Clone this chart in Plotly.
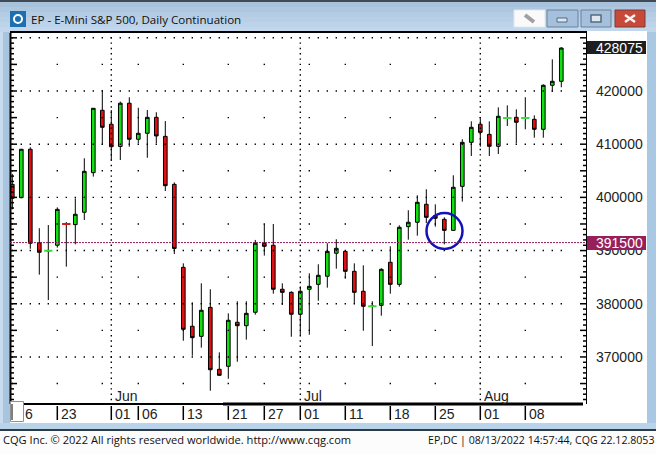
import plotly.graph_objects as go

dates = ["05-16","05-17","05-18","05-19","05-20","05-23","05-24","05-25","05-26","05-27",
 "05-31","06-01","06-02","06-03","06-06","06-07","06-08","06-09","06-10","06-13",
 "06-14","06-15","06-16","06-17","06-21","06-22","06-23","06-24","06-27","06-28",
 "06-29","06-30","07-01","07-05","07-06","07-07","07-08","07-11","07-12","07-13",
 "07-14","07-15","07-18","07-19","07-20","07-21","07-22","07-25","07-26","07-27",
 "07-28","07-29","08-01","08-02","08-03","08-04","08-05","08-08","08-09","08-10",
 "08-11","08-12"]
opens = [402450,399950,409050,391475,389950,391000,395025,394875,397200,404650,
 416375,413750,409575,417700,410925,412050,415050,411475,402450,386850,
 375775,373875,379325,367675,368250,376525,375875,378400,391375,391000,
 382725,382150,378025,382725,383650,385175,389500,389850,386100,382350,
 379500,379700,387800,383650,394500,395325,398700,396550,395875,393800,
 402075,410350,413750,411850,409600,414900,415050,414900,414675,412800,
 421075,421825]
highs = [404400,409100,409425,394200,394800,398125,395375,399825,407350,416800,
 420200,416425,418000,418825,416850,416425,416000,414350,402825,387600,
 380275,383850,382725,370875,378200,380475,380475,392000,395000,395000,
 383850,382350,383275,385725,387425,391375,392125,389850,387600,387225,
 380475,386675,390800,394750,397575,400400,401525,398700,396250,404150,
 410925,414300,414875,414300,416925,417300,416550,418825,415425,421250,
 425950,428225]
lows = [397750,399825,390350,385475,380700,390550,386975,391175,395750,403900,
 409850,406900,407025,409525,410175,407450,410175,401200,389350,373050,
 370225,371750,363650,366425,365900,369100,373250,377950,389050,381900,
 379775,373800,374125,374175,380575,383025,386600,384700,380150,374925,
 372050,377750,381900,383200,392050,392800,395175,394500,391175,393800,
 399200,407775,409525,407775,408150,413425,410175,412800,411225,411225,
 419875,420700]
closes = [399825,409050,391375,389675,390000,397750,394975,396825,404900,416750,
 413175,409525,417700,410925,412050,415050,411550,402200,390400,375200,
 373625,378775,367600,366550,376900,375875,378200,391375,390800,382725,
 382150,378025,382350,383275,385350,389850,390425,386100,382150,379525,
 379550,386475,383650,394375,395325,399075,396250,396075,393800,401900,
 410350,413175,412225,409600,415250,414950,414125,414950,412800,421075,
 421825,428075]
tick_dates = ["05-16","05-23","06-01","06-06","06-13","06-21","06-27","07-01","07-11","07-18","07-25","08-01","08-08"]
tick_labels = ["6","23","01","06","13","21","27","01","11","18","25","01","08"]
week_starts = ["05-16","05-23","05-31","06-06","06-13","06-21","06-27","07-05","07-11","07-18","07-25","08-01","08-08"]
month_dates = ["06-01","07-01","08-01"]
month_labels = ["Jun","Jul","Aug"]
price_levels = [370000,380000,390000,400000,410000,420000]
half_levels = [365000,375000,385000,395000,405000,415000,425000]
grid_rows = price_levels + [430000]
last_price = 428075
marker_price = 391500

W, H = 656, 454
L, R, T, B = 10, 586, 33, 404
UNIT = 188.0  # price units per pixel
y_top = 420000 + (91 - T) * UNIT
y_bot = 420000 + (91 - B) * UNIT
x_lo = -(12.3 - L) / 9
x_hi = (R - 12.3) / 9

FONT = "Liberation Sans"
UI = "Open Sans"
GREEN, RED = "#10e010", "#e01010"
TICK = "#000000"
TICK_W = 1.5

def px(x):
    return (x - L) / (R - L)

def py(y):
    return 1 - (y - T) / (B - T)

def rect(x0, y0, x1, y1, fill, line=None, lw=1, layer="below"):
    return dict(type="rect", xref="paper", yref="paper",
                x0=px(x0), x1=px(x1), y0=py(y0), y1=py(y1),
                fillcolor=fill, line=dict(color=line or fill, width=lw if line else 0), layer=layer)

def seg(x0, y0, x1, y1, color, width=1, layer="above"):
    return dict(type="line", xref="paper", yref="paper", x0=px(x0), x1=px(x1), y0=py(y0), y1=py(y1),
                line=dict(color=color, width=width), layer=layer)

shapes = []
# window frame
shapes.append(rect(0, 0, W, 431, "#b5cde4"))
for i, c in enumerate(["#a9c2dc", "#aec7e0", "#b3cbe3", "#b8cfe6", "#bdd3e9", "#c2d7eb"]):
    shapes.append(rect(0, 2 + i * 5, W, 7 + i * 5, c))
shapes.append(rect(0, 0, W, 2, "#3f4a55"))
shapes.append(rect(0, 32, 3, 431, "#c8dcee"))
shapes.append(rect(3, 32, 10, 431, "#a9c4df"))
shapes.append(rect(647, 32, 656, 431, "#a9c8e4"))
shapes.append(rect(10, 31, 647, 423, "#ffffff"))
shapes.append(rect(0, 423, W, 429, "#b9d3ea"))
shapes.append(rect(0, 429, W, 431, "#2b3a47"))
shapes.append(rect(0, 431, W, H, "#fcfcfc"))
shapes.append(rect(10, 31, 587, 33, "#000000"))
# title bar widgets
shapes.append(rect(10, 11, 26, 27, "#1c6fb0"))
shapes.append(dict(type="circle", xref="paper", yref="paper", x0=px(14), x1=px(22),
                   y0=py(23), y1=py(15), line=dict(color="#ffffff", width=2)))
shapes.append(rect(514, 10, 545, 27, "#fafafa", "#dfe8f0"))
shapes.append(rect(547, 10, 578, 27, "#a4c0dc", "#6d8299"))
shapes.append(rect(581, 10, 611, 27, "#a4c0dc", "#6d8299"))
shapes.append(rect(615, 10, 645, 27, "#c6493a", "#7e3a32"))
shapes.append(rect(557, 18, 567, 22, "#dfe8f0", "#55697c"))
shapes.append(rect(591, 15, 601, 22, "#dfe8f0", "#55697c", 1.5))
shapes.append(seg(525, 15, 534, 22, "#a0a0a0", 4, "below"))
shapes.append(seg(625, 15, 635, 22, "#f4f4f4", 2.5, "below"))
shapes.append(seg(625, 22, 635, 15, "#f4f4f4", 2.5, "below"))
# axis lines
shapes.append(seg(10.5, 33, 10.5, 404, "#000000", 2))
shapes.append(seg(586.5, 33, 586.5, 404, "#000000", 1))
# y ticks on both edges: long every 5000, short every 1000
major = set(price_levels + half_levels + [430000])
for lv in range(362000, 431000, 1000):
    ln = 6 if lv in major else 3
    shapes.append(dict(type="line", xref="paper", yref="y", x0=px(11), x1=px(11 + ln), y0=lv, y1=lv,
                       line=dict(color=TICK, width=TICK_W), layer="above"))
    shapes.append(dict(type="line", xref="paper", yref="y", x0=px(586 - ln), x1=px(586), y0=lv, y1=lv,
                       line=dict(color=TICK, width=TICK_W), layer="above"))
# x ticks
for d in tick_dates[1:]:
    shapes.append(dict(type="line", xref="x", yref="paper", x0=d, x1=d, y0=py(406), y1=py(420),
                       line=dict(color=TICK, width=TICK_W), layer="above"))
# time bar
shapes.append(rect(10, 403, 223, 405, "#000000", layer="above"))
shapes.append(rect(223, 402.5, 583, 405.5, "#000000", layer="above"))
# last value flags
shapes.append(rect(587, 41, 646, 54, "#1e1e1e", layer="above"))
shapes.append(rect(587, 236, 646, 250, "#98205a", layer="above"))
# scroll thumb
shapes.append(rect(10.5, 401.5, 23.5, 421.5, "#ffffff", "#909090", 1, "above"))
shapes.append(seg(12, 404, 12, 420, "#000000", 1))
# highlight circle around a single candle
shapes.append(dict(type="circle", xref="paper", yref="paper",
                   x0=px(444.5 - 18), x1=px(444.5 + 18),
                   y0=py(231 + 18), y1=py(231 - 18),
                   line=dict(color="#1212b8", width=2.5), layer="above"))
# marker line
shapes.append(dict(type="line", xref="paper", yref="y", x0=0, x1=1,
                   y0=marker_price, y1=marker_price,
                   line=dict(color="#8a1a5a", width=1, dash="2px 1px"), layer="above"))

fig = go.Figure()
# grid dots
gx, gy = [], []
for lv in grid_rows:
    gx += dates; gy += [lv] * len(dates)
for lv in half_levels:
    gx += week_starts; gy += [lv] * len(week_starts)
n = int((430000 - 362000) / 1000) + 1
for m in month_dates:
    gx += [m] * n
    gy += [362000 + k * 1000 for k in range(n)]
fig.add_trace(go.Scatter(x=gx, y=gy, mode="markers", hoverinfo="skip", showlegend=False,
                         marker=dict(symbol="square", size=1.4, color="#000000", line=dict(width=0))))
fig.add_trace(go.Candlestick(x=dates, open=opens, high=highs, low=lows, close=closes,
    whiskerwidth=0, showlegend=False,
    increasing=dict(fillcolor=GREEN, line=dict(color="#000000", width=1)),
    decreasing=dict(fillcolor=RED, line=dict(color="#000000", width=1))))
# flat sessions drawn as short dashes over the wick
dx, dy, dc = [], [], []
for d, o, c in zip(dates, opens, closes):
    if abs(o - c) < 100:
        dx.append(d); dy.append((o + c) / 2); dc.append("#3fdc3f" if c > o else "#d81818")
fig.add_trace(go.Scatter(x=dx, y=dy, mode="markers", hoverinfo="skip", showlegend=False,
    marker=dict(symbol="line-ew", size=6, color=dc, line=dict(width=2, color=dc))))

ann = []
for d, t in zip(tick_dates, tick_labels):
    shift = 11 if t == "6" else 2
    ann.append(dict(x=d, y=py(414), yref="paper", xref="x", text=t, showarrow=False, xanchor="left",
                    yanchor="middle", xshift=shift, font=dict(family=FONT, size=14, color="#222222")))
for d, t in zip(month_dates, month_labels):
    ann.append(dict(x=d, y=py(396), yref="paper", xref="x", text=t, showarrow=False, xanchor="left",
                    yanchor="middle", xshift=2, font=dict(family=FONT, size=14, color="#222222")))
ann.append(dict(x=px(28.5), y=py(19), xref="paper", yref="paper", text="EP - E-Mini S&amp;P 500, Daily Continuation",
                showarrow=False, xanchor="left", yanchor="middle", font=dict(family=UI, size=11.6, color="#101010")))
ann.append(dict(x=px(0.5), y=py(440), xref="paper", yref="paper",
                text="CQG Inc. © 2022 All rights reserved worldwide. http://www.cqg.com",
                showarrow=False, xanchor="left", yanchor="middle", font=dict(family=UI, size=11.1, color="#101010")))
ann.append(dict(x=px(656), y=py(440), xref="paper", yref="paper",
                text="EP,DC | 08/13/2022 14:57:44, CQG 22.12.8053",
                showarrow=False, xanchor="right", yanchor="middle", font=dict(family=UI, size=10.6, color="#101010")))
ann.append(dict(x=px(645), y=last_price, xref="paper", yref="y", text=f"{last_price}", showarrow=False,
                xanchor="right", yanchor="middle", font=dict(family=FONT, size=14, color="#ffffff")))
ann.append(dict(x=px(645), y=marker_price, xref="paper", yref="y", text=f"{marker_price}", showarrow=False,
                xanchor="right", yanchor="middle", font=dict(family=FONT, size=14, color="#ffffff")))

fig.update_layout(
    width=W, height=H, autosize=False,
    margin=dict(l=L, r=W - R, t=T, b=H - B, pad=0),
    paper_bgcolor="#ffffff", plot_bgcolor="rgba(0,0,0,0)",
    shapes=shapes, annotations=ann, showlegend=False, boxgap=0.42,
    xaxis=dict(type="category", categoryorder="array", categoryarray=dates, range=[x_lo, x_hi],
               rangeslider=dict(visible=False), showgrid=False, zeroline=False,
               tickvals=tick_dates, ticktext=[""] * len(tick_dates), ticks="", showline=False),
    yaxis=dict(side="right", range=[y_bot, y_top], showgrid=False, zeroline=False,
               tickvals=price_levels, ticktext=[str(v) for v in price_levels],
               ticks="", showline=False, ticklabelstandoff=9,
               tickfont=dict(family=FONT, size=14, color="#222222")),
    hovermode=False,
)
fig.write_html("out.html", config=dict(displayModeBar=False),
               post_script="document.body.style.margin='0';document.body.style.overflow='hidden';")
